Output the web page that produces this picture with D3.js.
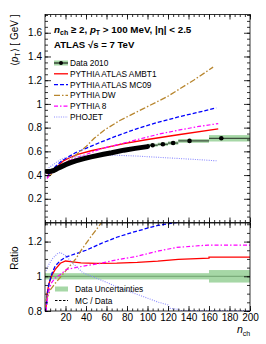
<!DOCTYPE html>
<html>
<head>
<meta charset="utf-8">
<script src="https://cdn.jsdelivr.net/npm/d3@7"></script>
<style>
body { margin: 0; background: #fff; }
svg { font-family: "Liberation Sans", Arial, sans-serif; }
</style>
</head>
<body>
<div class="chart"></div>
<script>
// data 2010, dense part (one point per n_ch)
var dataN = [2, 4, 6, 8, 10, 12, 15, 20, 25, 30, 38, 45, 57, 65, 77, 88, 100];
var dataV = [0.43, 0.43, 0.432, 0.437, 0.445, 0.455, 0.467, 0.488, 0.505, 0.52, 0.538, 0.553, 0.575, 0.588, 0.61, 0.625, 0.64];
// data 2010, wide bins at high n_ch
var binLo = [100, 110, 120, 130, 160];
var binHi = [110, 120, 130, 160, 200];
var binN = [105, 115, 125, 141, 172];
var binV = [0.652, 0.66, 0.67, 0.688, 0.71];
var binErr = [0.012, 0.013, 0.014, 0.016, 0.027];
// relative data uncertainty used in the ratio panel
var uncLo = [0, 160];
var uncHi = [160, 200];
var uncRel = [0.018, 0.036];

// MC predictions, upper panel
var ambtN = [2, 5, 9, 13, 18, 25, 32, 45, 58, 77, 100, 130, 169];
var ambtV = [0.39, 0.42, 0.44, 0.48, 0.52, 0.55, 0.575, 0.605, 0.63, 0.665, 0.70, 0.74, 0.79];
var mc09N = [2, 5, 10, 15, 20, 30, 40, 55, 70, 88, 110, 130, 150, 167];
var mc09V = [0.38, 0.42, 0.47, 0.51, 0.54, 0.59, 0.625, 0.68, 0.73, 0.786, 0.845, 0.89, 0.93, 0.966];
var dwN = [2, 10, 20, 30, 40, 48, 58, 73, 96, 119, 145, 164];
var dwV = [0.38, 0.43, 0.50, 0.57, 0.64, 0.71, 0.78, 0.86, 0.96, 1.06, 1.20, 1.31];
var p8N = [2, 5, 10, 15, 21, 30, 40, 54, 70, 88, 111, 128, 150, 169];
var p8V = [0.37, 0.41, 0.44, 0.47, 0.51, 0.545, 0.573, 0.62, 0.655, 0.695, 0.745, 0.775, 0.81, 0.834];
var phN = [2, 5, 10, 15, 20, 30, 40, 55, 70, 90, 110, 130, 150, 168];
var phV = [0.445, 0.47, 0.50, 0.53, 0.545, 0.555, 0.562, 0.567, 0.567, 0.56, 0.55, 0.54, 0.53, 0.52];

// MC / data ratios, lower panel
var rAmbtN = [1, 2, 4, 7, 10, 15, 20, 25, 35, 50, 70, 90, 110, 130, 160, 160, 200];
var rAmbtV = [0.82, 0.9, 0.96, 1.01, 1.04, 1.075, 1.088, 1.085, 1.077, 1.075, 1.076, 1.08, 1.087, 1.097, 1.105, 1.11, 1.11];
var rMc09N = [1, 2, 4, 7, 10, 15, 20, 30, 40, 55, 70, 88, 110, 128, 140];
var rMc09V = [0.8, 0.88, 0.96, 1.02, 1.06, 1.09, 1.11, 1.13, 1.15, 1.19, 1.225, 1.258, 1.293, 1.31, 1.33];
var rDwN = [1, 5, 10, 20, 30, 36, 45, 54, 58];
var rDwV = [0.86, 0.92, 0.96, 1.03, 1.10, 1.156, 1.23, 1.30, 1.34];
var rP8N = [1, 3, 6, 10, 15, 21, 37, 54, 70, 88, 111, 128, 159, 200];
var rP8V = [0.8, 0.9, 0.96, 0.99, 1.01, 1.04, 1.058, 1.075, 1.095, 1.113, 1.146, 1.166, 1.18, 1.18];
var rPhN = [1, 3, 7, 12, 15, 20, 28, 37, 54, 70, 88, 111, 120, 122, 130, 132, 200];
var rPhV = [1.03, 1.06, 1.10, 1.13, 1.137, 1.12, 1.07, 1.02, 0.98, 0.94, 0.90, 0.85, 0.835, 0.815, 0.81, 0.803, 0.803];

var xTicks = [20, 40, 60, 80, 100, 120, 140, 160, 180, 200];
var yTopTicks = [0.2, 0.4, 0.6, 0.8, 1, 1.2, 1.4, 1.6];
var yRatTicks = [0.8, 1, 1.2];

var legendNames = ["Data 2010", "PYTHIA ATLAS AMBT1", "PYTHIA ATLAS MC09", "PYTHIA DW", "PYTHIA 8", "PHOJET"];

var W = 266, H = 344;
var L = 45, R = 250, T = 14.5, MID = 222.5, B = 311;
var GREEN = "#a6d7a6";

var svg = d3.select(".chart").append("svg")
	.attr("width", W)
	.attr("height", H);

var x = d3.scaleLinear().domain([0, 200]).range([L, R]);
var yTop = d3.scaleLinear().domain([0, 1.754]).range([MID, T]);
var yRat = d3.scaleLinear().domain([0.8, 1.31]).range([B, MID]);

var styles = [
	{ color: "#ff0000", dash: null, w: 1.3 },
	{ color: "#0000ff", dash: "4,2", w: 1.3 },
	{ color: "#b8862e", dash: "6,2,1.5,2", w: 1.3 },
	{ color: "#ff00ff", dash: "4,2,1.5,2", w: 1.2 },
	{ color: "#8c8cff", dash: "1,1.3", w: 1.1 }
];

var defs = svg.append("defs");
defs.append("clipPath").attr("id", "clipTop").append("rect")
	.attr("x", L).attr("y", T).attr("width", R - L).attr("height", MID - T);
defs.append("clipPath").attr("id", "clipRat").append("rect")
	.attr("x", L).attr("y", MID).attr("width", R - L).attr("height", B - MID);

var gTop = svg.append("g").attr("clip-path", "url(#clipTop)");
var gRat = svg.append("g").attr("clip-path", "url(#clipRat)");

function pairs(ns, vs) {
	return ns.map(function(n, i) { return [n, vs[i]]; });
}

// ---- upper panel ----
// green uncertainty on the wide bins
gTop.selectAll(".band").data(binLo).enter().append("rect")
	.attr("x", function(d) { return x(d); })
	.attr("width", function(d, i) { return x(binHi[i]) - x(d); })
	.attr("y", function(d, i) { return yTop(binV[i] + binErr[i]); })
	.attr("height", function(d, i) { return yTop(binV[i] - binErr[i]) - yTop(binV[i] + binErr[i]); })
	.attr("fill", GREEN);

var lineTop = d3.line().x(function(d) { return x(d[0]); }).y(function(d) { return yTop(d[1]); });
var mcTop = [pairs(ambtN, ambtV), pairs(mc09N, mc09V), pairs(dwN, dwV), pairs(p8N, p8V), pairs(phN, phV)];
mcTop.forEach(function(pts, i) {
	gTop.append("path")
		.attr("d", lineTop(pts))
		.attr("fill", "none")
		.attr("stroke", styles[i].color)
		.attr("stroke-width", styles[i].w)
		.attr("stroke-dasharray", styles[i].dash);
});

// data: dense points merge into a thick band
gTop.append("path")
	.attr("d", lineTop(pairs(dataN, dataV)))
	.attr("fill", "none")
	.attr("stroke", "#000")
	.attr("stroke-width", 5)
	.attr("stroke-linecap", "round");
gTop.selectAll(".bin").data(binLo).enter().append("line")
	.attr("x1", function(d) { return x(d); })
	.attr("x2", function(d, i) { return x(binHi[i]); })
	.attr("y1", function(d, i) { return yTop(binV[i]); })
	.attr("y2", function(d, i) { return yTop(binV[i]); })
	.attr("stroke", "#000")
	.attr("stroke-width", 0.8);
gTop.selectAll(".pt").data(binN).enter().append("circle")
	.attr("cx", function(d) { return x(d); })
	.attr("cy", function(d, i) { return yTop(binV[i]); })
	.attr("r", 2.3)
	.attr("fill", "#000");

// ---- ratio panel ----
gRat.selectAll(".unc").data(uncLo).enter().append("rect")
	.attr("x", function(d) { return x(d); })
	.attr("width", function(d, i) { return x(uncHi[i]) - x(d); })
	.attr("y", function(d, i) { return yRat(1 + uncRel[i]); })
	.attr("height", function(d, i) { return yRat(1 - uncRel[i]) - yRat(1 + uncRel[i]); })
	.attr("fill", GREEN);
gRat.append("line")
	.attr("x1", x(0)).attr("x2", x(200))
	.attr("y1", yRat(1)).attr("y2", yRat(1))
	.attr("stroke", "#5a8a5a")
	.attr("stroke-width", 0.7);

var lineRat = d3.line().x(function(d) { return x(d[0]); }).y(function(d) { return yRat(d[1]); });
var mcRat = [pairs(rAmbtN, rAmbtV), pairs(rMc09N, rMc09V), pairs(rDwN, rDwV), pairs(rP8N, rP8V), pairs(rPhN, rPhV)];
mcRat.forEach(function(pts, i) {
	gRat.append("path")
		.attr("d", lineRat(pts))
		.attr("fill", "none")
		.attr("stroke", styles[i].color)
		.attr("stroke-width", styles[i].w)
		.attr("stroke-dasharray", styles[i].dash);
});

// ---- axes (ROOT style: ticks inside, on all four sides) ----
function minor(lo, hi, step) {
	return d3.range(lo, hi + step / 2, step);
}
var fmt = d3.format("~g");

function addAxis(axis, tx, ty, fontSize) {
	var g = svg.append("g")
		.attr("transform", "translate(" + tx + "," + ty + ")")
		.call(axis);
	g.select(".domain").remove();
	g.selectAll("line").attr("stroke", "#000").attr("stroke-width", 0.8);
	g.selectAll("text").attr("font-size", fontSize || 10).attr("font-family", "Liberation Sans, Arial, sans-serif").attr("fill", "#000");
	return g;
}

var xMinor = minor(0, 200, 5);
var yTopMinor = minor(0, 1.75, 0.05);
var yRatMinor = minor(0.8, 1.3, 0.05);

// upper panel
addAxis(d3.axisLeft(yTop).tickValues(yTopTicks).tickSizeInner(-6).tickSizeOuter(0).tickPadding(3).tickFormat(fmt), L, 0);
addAxis(d3.axisLeft(yTop).tickValues(yTopMinor).tickSizeInner(-3).tickSizeOuter(0).tickFormat(""), L, 0);
addAxis(d3.axisRight(yTop).tickValues(yTopTicks).tickSizeInner(-6).tickSizeOuter(0).tickFormat(""), R, 0);
addAxis(d3.axisRight(yTop).tickValues(yTopMinor).tickSizeInner(-3).tickSizeOuter(0).tickFormat(""), R, 0);
addAxis(d3.axisBottom(x).tickValues(xTicks).tickSizeInner(-5).tickSizeOuter(0).tickFormat(""), 0, MID);
addAxis(d3.axisBottom(x).tickValues(xMinor).tickSizeInner(-2.5).tickSizeOuter(0).tickFormat(""), 0, MID);
addAxis(d3.axisTop(x).tickValues(xTicks).tickSizeInner(-5).tickSizeOuter(0).tickFormat(""), 0, T);
addAxis(d3.axisTop(x).tickValues(xMinor).tickSizeInner(-2.5).tickSizeOuter(0).tickFormat(""), 0, T);

// ratio panel
addAxis(d3.axisLeft(yRat).tickValues(yRatTicks).tickSizeInner(-6).tickSizeOuter(0).tickPadding(3).tickFormat(fmt), L, 0);
addAxis(d3.axisLeft(yRat).tickValues(yRatMinor).tickSizeInner(-3).tickSizeOuter(0).tickFormat(""), L, 0);
addAxis(d3.axisRight(yRat).tickValues(yRatTicks).tickSizeInner(-6).tickSizeOuter(0).tickFormat(""), R, 0);
addAxis(d3.axisRight(yRat).tickValues(yRatMinor).tickSizeInner(-3).tickSizeOuter(0).tickFormat(""), R, 0);
addAxis(d3.axisBottom(x).tickValues(xTicks).tickSizeInner(-5).tickSizeOuter(0).tickPadding(3).tickFormat(fmt), 0, B);
addAxis(d3.axisBottom(x).tickValues(xMinor).tickSizeInner(-2.5).tickSizeOuter(0).tickFormat(""), 0, B);
addAxis(d3.axisTop(x).tickValues(xTicks).tickSizeInner(-5).tickSizeOuter(0).tickFormat(""), 0, MID + 0.5);
addAxis(d3.axisTop(x).tickValues(xMinor).tickSizeInner(-2.5).tickSizeOuter(0).tickFormat(""), 0, MID + 0.5);

// frames
[[T, MID], [MID + 0.5, B]].forEach(function(p) {
	svg.append("rect")
		.attr("x", L).attr("y", p[0])
		.attr("width", R - L).attr("height", p[1] - p[0])
		.attr("fill", "none")
		.attr("stroke", "#000")
		.attr("stroke-width", 0.8);
});

// ---- axis titles ----
var yt = svg.append("text")
	.attr("transform", "translate(18," + T + ") rotate(-90)")
	.attr("text-anchor", "end")
	.attr("font-size", 10);
yt.append("tspan").text("\u27E8");
yt.append("tspan").attr("font-style", "italic").text("p");
yt.append("tspan").attr("font-size", 7).attr("dy", 2).text("T");
yt.append("tspan").attr("dy", -2).text("\u27E9 [ GeV ]");

svg.append("text")
	.attr("transform", "translate(18,258) rotate(-90)")
	.attr("text-anchor", "middle")
	.attr("font-size", 10)
	.text("Ratio");

var xt = svg.append("text")
	.attr("x", 237)
	.attr("y", 333)
	.attr("font-size", 10.5);
xt.append("tspan").attr("font-style", "italic").text("n");
xt.append("tspan").attr("font-size", 7).attr("dy", 2.5).text("ch");

// ---- header ----
var h1 = svg.append("text")
	.attr("x", 54)
	.attr("y", 33)
	.attr("font-size", 9.8)
	.attr("font-weight", "bold");
h1.append("tspan").attr("font-style", "italic").text("n");
h1.append("tspan").attr("font-size", 7).attr("dy", 2).text("ch");
h1.append("tspan").attr("dy", -2).text(" \u2265 2, ");
h1.append("tspan").attr("font-style", "italic").text("p");
h1.append("tspan").attr("font-size", 7).attr("dy", 2).text("T");
h1.append("tspan").attr("dy", -2).text(" > 100 MeV, |\u03B7| < 2.5");

svg.append("text")
	.attr("x", 54)
	.attr("y", 47.5)
	.attr("font-size", 9.6)
	.attr("font-weight", "bold")
	.text("ATLAS \u221As = 7 TeV");

// ---- legends ----
var legY = d3.scalePoint().domain(legendNames).range([63, 117]);
var leg = svg.append("g");
legendNames.forEach(function(name, i) {
	var yy = legY(name);
	if (i === 0) {
		leg.append("rect").attr("x", 54).attr("y", yy - 2.5).attr("width", 14).attr("height", 5).attr("fill", GREEN);
		leg.append("line").attr("x1", 54).attr("x2", 68).attr("y1", yy).attr("y2", yy).attr("stroke", "#000").attr("stroke-width", 1);
		leg.append("circle").attr("cx", 61).attr("cy", yy).attr("r", 2).attr("fill", "#000");
	} else {
		var s = styles[i - 1];
		leg.append("line").attr("x1", 54).attr("x2", 68).attr("y1", yy).attr("y2", yy)
			.attr("stroke", s.color).attr("stroke-width", s.w).attr("stroke-dasharray", s.dash);
	}
	leg.append("text")
		.attr("x", 70)
		.attr("y", yy + 3)
		.attr("font-size", 8.3)
		.text(name);
});

var rl = svg.append("g");
rl.append("rect").attr("x", 55).attr("y", 286.5).attr("width", 13).attr("height", 5).attr("fill", GREEN);
rl.append("text").attr("x", 75).attr("y", 292).attr("font-size", 8.3).text("Data Uncertainties");
rl.append("line").attr("x1", 55).attr("x2", 68).attr("y1", 300.5).attr("y2", 300.5)
	.attr("stroke", "#000").attr("stroke-width", 1.2).attr("stroke-dasharray", "2.5,1.5");
rl.append("text").attr("x", 75).attr("y", 303.5).attr("font-size", 8.3).text("MC / Data");
</script>
</body>
</html>
